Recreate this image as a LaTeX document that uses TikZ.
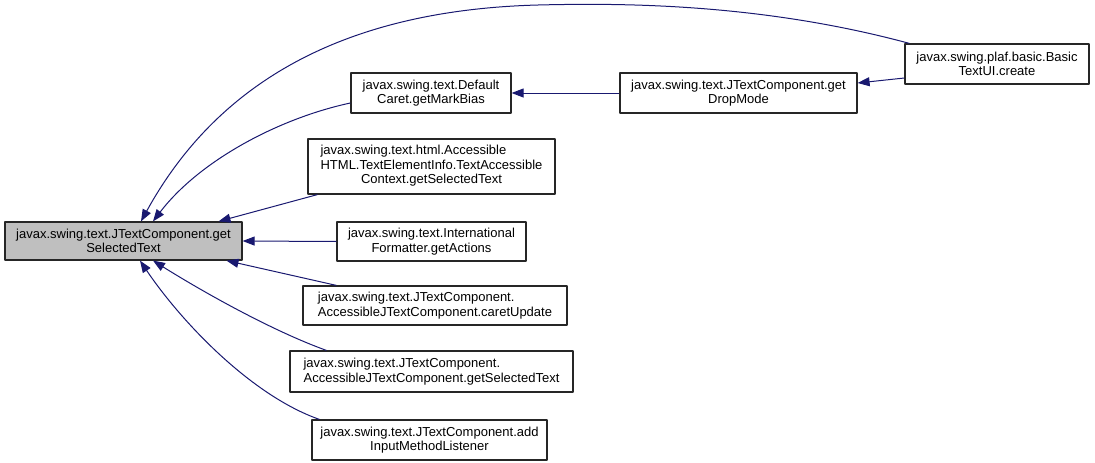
\documentclass[tikz,border=0pt]{standalone}
\usepackage{fontspec}
\setmainfont{Liberation Sans}
\usetikzlibrary{arrows.meta}
\definecolor{edgeblue}{RGB}{25,25,112}
\definecolor{mainfill}{RGB}{191,191,191}
\begin{document}
\begin{tikzpicture}[x=1pt,y=-1pt,>={Triangle[length=12pt,width=9pt]}, font=\fontsize{13}{14.5}\selectfont, line join=round,
	fn/.style={draw=black!85,line width=1.2pt,inner sep=0pt,fill=white},
	call/.style={->,draw=edgeblue,color=edgeblue,line width=1pt}]
	\useasboundingbox (0,0) rectangle (1095,463);
	% called function
	\node[fn,fill=mainfill,align=center,minimum width=237pt,minimum height=38pt] (main) at (123.5,241) {javax.swing.text.JTextComponent.get\\SelectedText};
	% callers
	\node[fn,align=center,minimum width=160pt,minimum height=40pt] (caret) at (431,93) {javax.swing.text.Default\\Caret.getMarkBias};
	\node[fn,minimum width=247pt,minimum height=55pt] (html) at (431.5,166.5) {\begin{tabular}{@{}l@{}}javax.swing.text.html.Accessible\\HTML.TextElementInfo.TextAccessible\\\multicolumn{1}{@{}c@{}}{Context.getSelectedText}\end{tabular}};
	\node[fn,align=center,minimum width=189pt,minimum height=39pt] (intl) at (431.5,241.5) {javax.swing.text.International\\Formatter.getActions};
	\node[fn,align=left,minimum width=264pt,minimum height=39pt] (caretupd) at (435,305.5) {javax.swing.text.JTextComponent.\\AccessibleJTextComponent.caretUpdate};
	\node[fn,align=left,minimum width=283pt,minimum height=41pt] (acctext) at (431.5,371.5) {javax.swing.text.JTextComponent.\\AccessibleJTextComponent.getSelectedText};
	\node[fn,align=center,minimum width=235pt,minimum height=40pt] (addinput) at (429.5,440) {javax.swing.text.JTextComponent.add\\InputMethodListener};
	\node[fn,align=center,minimum width=237pt,minimum height=40pt] (dropmode) at (738.5,93) {javax.swing.text.JTextComponent.get\\DropMode};
	\node[fn,align=center,minimum width=184pt,minimum height=40pt] (basicui) at (997,64) {javax.swing.plaf.basic.Basic\\TextUI.create};
	% call edges
	\draw[call] ([xshift=5pt]basicui.north west) .. controls (760,3) and (620,3) .. (538,5) .. controls (350,10) and (220,78) .. ([xshift=17.5pt]main.north);
	\draw[call] ([yshift=-14pt]basicui.west) -- ([yshift=10pt]dropmode.east);
	\draw[call] (dropmode.west) -- (caret.east);
	\draw[call] ([yshift=-10pt]caret.west) .. controls (280,118) and (200,160) .. ([xshift=29.5pt]main.north);
	\draw[call] ([xshift=10pt]html.south west) -- ([xshift=95pt]main.north);
	\draw[call] (intl.west) -- (main.east);
	\draw[call] ([xshift=34pt]caretupd.north west) -- ([xshift=103pt]main.south);
	\draw[call] ([xshift=37pt]acctext.north west) .. controls (270,330) and (200,290) .. ([xshift=29.5pt]main.south);
	\draw[call] ([xshift=8pt]addinput.north west) .. controls (250,395) and (180,320) .. ([xshift=16.5pt]main.south);
\end{tikzpicture}
\end{document}
